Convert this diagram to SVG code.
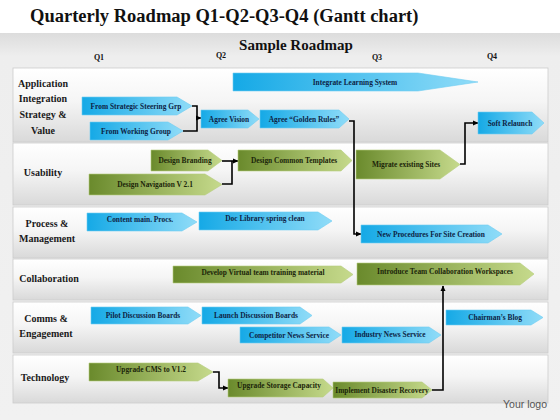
<svg xmlns="http://www.w3.org/2000/svg" width="560" height="420" viewBox="0 0 560 420">
<defs>
<linearGradient id="bg" x1="0" y1="0" x2="0" y2="1"><stop offset="0" stop-color="#dcdcdc"/><stop offset="0.06" stop-color="#eeeeee"/><stop offset="1" stop-color="#f1f1f1"/></linearGradient>
<linearGradient id="row" x1="0" y1="0" x2="0" y2="1"><stop offset="0" stop-color="#ffffff"/><stop offset="0.45" stop-color="#f5f5f5"/><stop offset="1" stop-color="#d9d9d9"/></linearGradient>
<linearGradient id="blue" x1="0" y1="0" x2="1" y2="0"><stop offset="0" stop-color="#15a9e6"/><stop offset="1" stop-color="#90dcf8"/></linearGradient>
<linearGradient id="green" x1="0" y1="0" x2="1" y2="0"><stop offset="0" stop-color="#6a8a2c"/><stop offset="1" stop-color="#c6da8c"/></linearGradient>
<marker id="ah" markerWidth="6" markerHeight="6" refX="5" refY="3" orient="auto" markerUnits="userSpaceOnUse"><path d="M0,0.5 L5.5,3 L0,5.5 z" fill="#000"/></marker>
</defs>
<style>
.title{font-family:"Liberation Serif",serif;font-weight:bold;font-size:18.5px;fill:#111}
.sub{font-family:"Liberation Serif",serif;font-weight:bold;font-size:15px;fill:#111;text-anchor:middle}
.q{font-family:"Liberation Serif",serif;font-weight:bold;font-size:8px;fill:#111;text-anchor:middle}
.lbl{font-family:"Liberation Serif",serif;font-weight:bold;font-size:10px;fill:#1a1a1a;text-anchor:middle}
.row{fill:url(#row);stroke:#cccccc;stroke-width:0.8}
.b{fill:url(#blue);stroke:#6fcdf2;stroke-width:0.6}
.g{fill:url(#green);stroke:#b6cc7c;stroke-width:0.6}
.bt{font-family:"Liberation Serif",serif;font-weight:bold;font-size:7.4px;fill:#0d1f45;text-anchor:middle}
.gt{font-family:"Liberation Serif",serif;font-weight:bold;font-size:7.4px;fill:#1c260a;text-anchor:middle}
.c{fill:none;stroke:#000;stroke-width:1.6}
.logo{font-family:"Liberation Sans",sans-serif;font-size:10.5px;fill:#555}
</style>
<rect x="0" y="0" width="560" height="420" fill="#ffffff"/>
<rect x="0" y="33" width="560" height="387" fill="url(#bg)"/>
<text class="title" x="30" y="22">Quarterly Roadmap Q1-Q2-Q3-Q4 (Gantt chart)</text>
<text class="sub" x="296" y="50">Sample Roadmap</text>
<text class="q" x="99" y="60">Q1</text>
<text class="q" x="221" y="58">Q2</text>
<text class="q" x="377" y="60">Q3</text>
<text class="q" x="492" y="59">Q4</text>

<g id="rows">
<rect class="row" x="13" y="68" width="535" height="74"/>
<rect class="row" x="13" y="143" width="535" height="62"/>
<rect class="row" x="13" y="207" width="535" height="51"/>
<rect class="row" x="13" y="259" width="535" height="41"/>
<rect class="row" x="13" y="302" width="535" height="51"/>
<rect class="row" x="13" y="355" width="535" height="48"/>
</g>
<g id="labels">
<text class="lbl" x="43" y="87">Application</text>
<text class="lbl" x="43" y="102">Integration</text>
<text class="lbl" x="43" y="118">Strategy &amp;</text>
<text class="lbl" x="43" y="134">Value</text>
<text class="lbl" x="43" y="176">Usability</text>
<text class="lbl" x="47" y="227">Process &amp;</text>
<text class="lbl" x="47" y="242">Management</text>
<text class="lbl" x="49" y="282">Collaboration</text>
<text class="lbl" x="46" y="322">Comms &amp;</text>
<text class="lbl" x="46" y="337">Engagement</text>
<text class="lbl" x="45" y="381">Technology</text>
</g>

<g id="connectors">
<path class="c" d="M192,106 H197 V131 H183"/>
<path class="c" d="M196,118 H201" marker-end="url(#ah)"/>
<path class="c" d="M349,121 H354 V234 H361" marker-end="url(#ah)"/>
<path class="c" d="M460,164 H465 V123 H478" marker-end="url(#ah)"/>
<path class="c" d="M222,161 H238" marker-end="url(#ah)"/>
<path class="c" d="M222,184 H232 V161"/>
<path class="c" d="M213,372 H219 V388 H228" marker-end="url(#ah)"/>
<path class="c" d="M432,390 H443 V286" marker-end="url(#ah)"/>
</g>

<g id="n1"><polygon class="b" points="233,73 418,73 478,82 418,91 233,91"/><text class="bt" x="355" y="84.5">Integrate Learning System</text></g>
<g id="n2"><polygon class="b" points="82,97 177,97 192,106 177,115 82,115"/><text class="bt" x="136" y="108.5">From Strategic Steering Grp</text></g>
<g id="n3"><polygon class="b" points="90,122 168,122 183,131 168,140 90,140"/><text class="bt" x="136" y="133.5">From Working Group</text></g>
<g id="n4"><polygon class="b" points="201,110 248,110 259,119 248,128 201,128"/><text class="bt" x="229" y="121.5">Agree Vision</text></g>
<g id="n5"><polygon class="b" points="260,110 339,110 349,119 339,128 260,128"/><text class="bt" x="304" y="121.5">Agree “Golden Rules”</text></g>
<g id="n6"><polygon class="b" points="478,112 532,112 544,123 532,134 478,134"/><text class="bt" x="510" y="125.5">Soft Relaunch</text></g>
<g id="n7"><polygon class="g" points="151,150 208,150 222,160.5 208,171 151,171"/><text class="gt" x="185" y="163">Design Branding</text></g>
<g id="n8"><polygon class="g" points="89,174 205,174 222,184.5 205,195 89,195"/><text class="gt" x="155" y="187">Design Navigation  V 2.1</text></g>
<g id="n9"><polygon class="g" points="238,150 341,150 352,160.5 341,171 238,171"/><text class="gt" x="294" y="163">Design Common Templates</text></g>
<g id="n10"><polygon class="g" points="356,150 440,150 460,164.5 440,179 356,179"/><text class="gt" x="406" y="167">Migrate existing Sites</text></g>
<g id="n11"><polygon class="b" points="87,213 182,213 197,222 182,231 87,231"/><text class="bt" x="140" y="221.5">Content  main. Procs.</text></g>
<g id="n12"><polygon class="b" points="199,212 318,212 332,221 318,230 199,230"/><text class="bt" x="265" y="220.5">Doc Library spring clean</text></g>
<g id="n13"><polygon class="b" points="361,225 488,225 502,234 488,243 361,243"/><text class="bt" x="431" y="236.5">New Procedures For Site Creation</text></g>
<g id="n14"><polygon class="g" points="173,266 341,266 353,274.5 341,283 173,283"/><text class="gt" x="263" y="275">Develop Virtual team training material</text></g>
<g id="n15"><polygon class="g" points="357,263 520,263 534,274 520,285 357,285"/><text class="gt" x="445" y="274">Introduce Team Collaboration  Workspaces</text></g>
<g id="n16"><polygon class="b" points="91,307 188,307 201,315.5 188,324 91,324"/><text class="bt" x="143" y="318">Pilot Discussion Boards</text></g>
<g id="n17"><polygon class="b" points="202,307 300,307 312,315.5 300,324 202,324"/><text class="bt" x="256" y="318">Launch Discussion Boards</text></g>
<g id="n18"><polygon class="b" points="240,327 329,327 341,335 329,343 240,343"/><text class="bt" x="289" y="337.5">Competitor News Service</text></g>
<g id="n19"><polygon class="b" points="342,327 429,327 441,335 429,343 342,343"/><text class="bt" x="390" y="336.5">Industry News Service</text></g>
<g id="n20"><polygon class="b" points="446,310 531,310 543,317.5 531,325 446,325"/><text class="bt" x="495" y="320">Chairman’s Blog</text></g>
<g id="n21"><polygon class="g" points="89,363 198,363 213,372 198,381 89,381"/><text class="gt" x="151" y="372">Upgrade CMS to V1.2</text></g>
<g id="n22"><polygon class="g" points="228,379 323,379 333,388 323,397 228,397"/><text class="gt" x="279" y="388">Upgrade Storage  Capacity</text></g>
<g id="n23"><polygon class="g" points="333,382 422,382 432,390 422,398 333,398"/><text class="gt" x="382" y="392.5">Implement Disaster Recovery</text></g>

<text class="logo" x="503" y="408">Your logo</text>
</svg>
